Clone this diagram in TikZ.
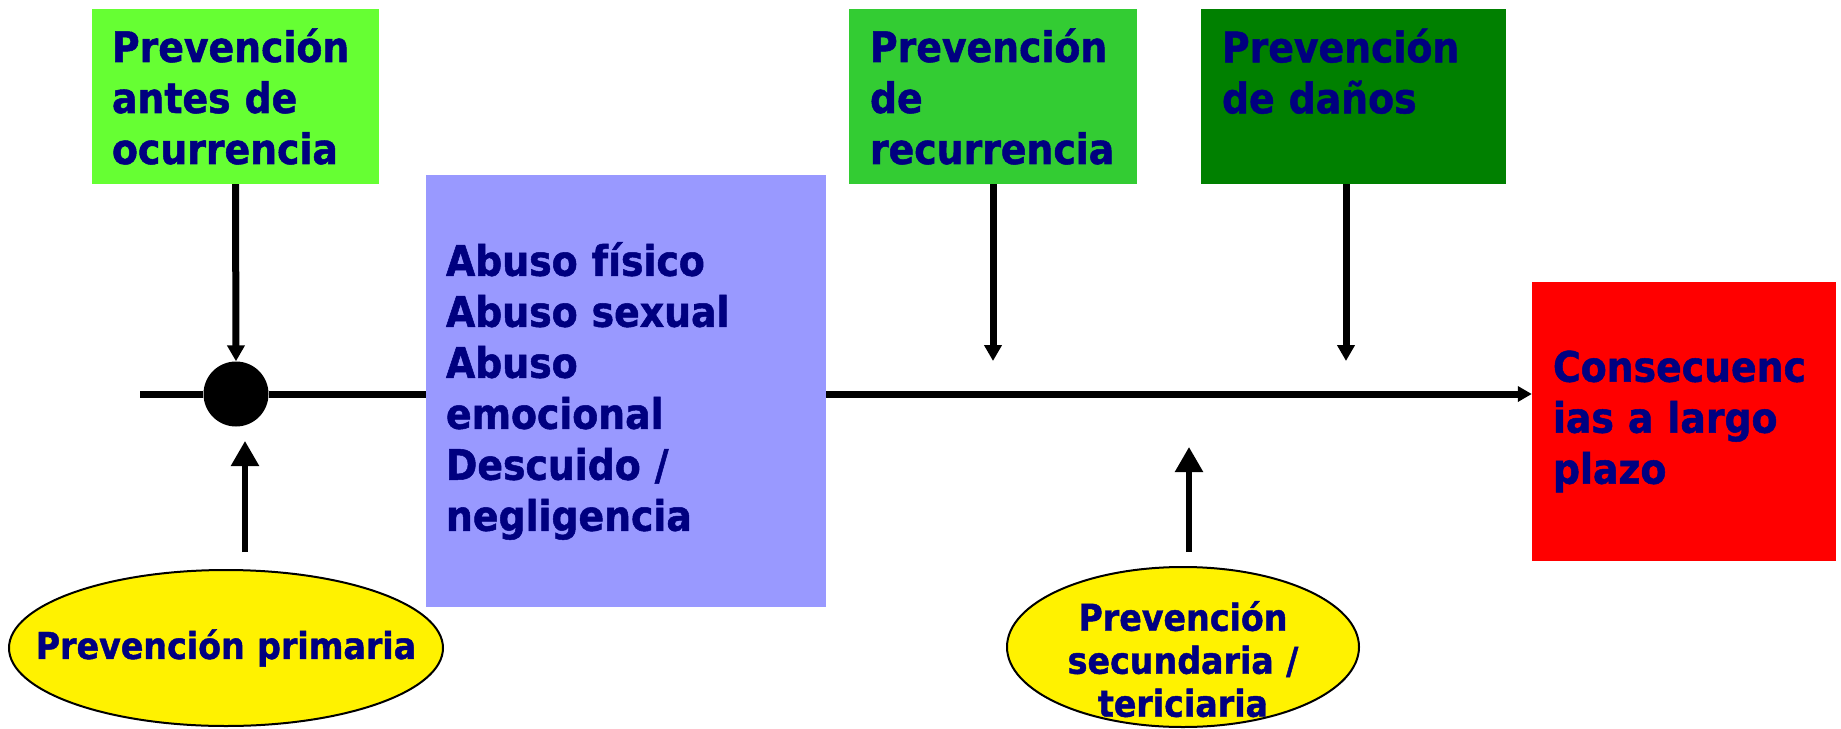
\documentclass[tikz,border=0pt]{standalone}
\usepackage{fontspec}
\setmainfont{DejaVu Sans Condensed}[BoldFeatures={FakeBold=1.2}]
\usetikzlibrary{arrows.meta,shapes.geometric}
\definecolor{navy}{RGB}{0,0,128}
\definecolor{boxlime}{RGB}{102,255,51}
\definecolor{boxgreen}{RGB}{51,204,51}
\definecolor{boxdark}{RGB}{0,128,0}
\definecolor{boxblue}{RGB}{153,153,255}

\begin{document}
\begin{tikzpicture}[x=1pt,y=-1pt,
  box/.style={rectangle, text=navy, align=left, inner xsep=20pt, inner ysep=0pt,
    font=\bfseries\fontsize{42}{51}\selectfont},
  oval/.style={ellipse, draw, line width=2pt, fill=yellow, text=navy, align=center,
    inner xsep=-60pt, inner ysep=-30pt, font=\bfseries\fontsize{37}{43}\selectfont},
  dn/.style={line width=7pt, -{Triangle[width=17pt,length=16pt]}},
  up/.style={line width=5.5pt, -{Triangle[width=27pt,length=25pt]}}]
\useasboundingbox (0,0) rectangle (1841,728);

\draw (235.5,96.5) node (b1) [box, fill=boxlime, minimum height=175pt, text width=247pt] {Prevención\\antes de\\ocurrencia};
\draw (993,96.5)   node (b3) [box, fill=boxgreen, minimum height=175pt, inner xsep=21pt, text width=246pt] {Prevención\\de\\recurrencia};
\draw (1353.5,96.5) node (b4) [box, fill=boxdark, minimum height=175pt, inner xsep=21pt, text width=263pt, text depth=102pt] {Prevención\\de daños};

\draw (626,391)    node (ab)   [box, fill=boxblue, minimum height=432pt, text width=360pt] {Abuso físico\\Abuso sexual\\Abuso\\emocional\\Descuido /\\negligencia};
\draw (1684,421.5) node (cons) [box, fill=red, minimum height=279pt, inner xsep=21pt, text width=262pt] {Consecuenc\\ias a largo\\plazo};

\draw (226,648)  node (e1) [oval, minimum width=434pt, minimum height=156pt, text width=390pt] {Prevención primaria};
\draw (1183,647) node (e2) [oval, minimum width=352pt, minimum height=160pt, text width=270pt, text height=54pt] {Prevención\\secundaria /\\tericiaria};

\coordinate (l0) at (140,394);
\coordinate (s1) at (245,552);
\coordinate (t1) at (245,441);
\coordinate (s2) at (1189,552);
\coordinate (t2) at (1189,447);
\coordinate (t3) at (993,361);
\coordinate (t4) at (1346,361);

\draw (236,394) node (dot) [circle, fill=black, minimum size=65pt, inner sep=0pt] {};
\draw[line width=7pt] (l0) -- (dot);
\draw[line width=7pt] (dot) -- (ab.west |- dot);
\draw[line width=7pt, -{Triangle[width=15pt,length=14pt]}] (ab.east |- dot) -- (cons.west |- dot);

\draw[dn] (b1.south) -- (dot.north);
\draw[dn] (b3.south) -- (t3);
\draw[dn] (b4.south -| t4) -- (t4);
\draw[up] (s1) -- (t1);
\draw[up] (s2) -- (t2);

\end{tikzpicture}
\end{document}
